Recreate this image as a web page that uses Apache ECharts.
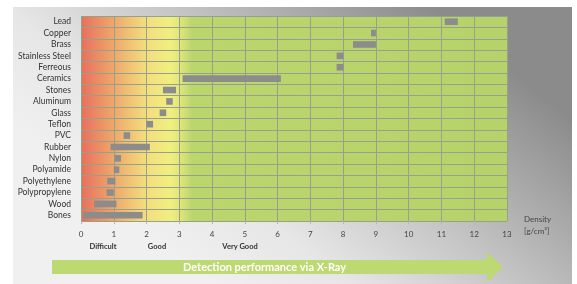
<!DOCTYPE html>
<html>
<head>
<meta charset="utf-8">
<script src="https://cdn.jsdelivr.net/npm/echarts@6/dist/echarts.min.js"></script>
<style>
  html, body { margin: 0; padding: 0; background: #fff; }
  #chart { width: 577px; height: 284px; }
</style>
</head>
<body>
<div id="chart"></div>
<script>
// materials, top to bottom
const materials = ['Lead', 'Copper', 'Brass', 'Stainless Steel', 'Ferreous', 'Ceramics', 'Stones',
  'Aluminum', 'Glass', 'Teflon', 'PVC', 'Rubber', 'Nylon', 'Polyamide', 'Polyethylene',
  'Polypropylene', 'Wood', 'Bones']
// density range (g/cm3) per material
const densityMin = [11.1, 8.85, 8.3, 7.8, 7.8, 3.1, 2.5, 2.6, 2.4, 2.0, 1.3, 0.9, 1.03, 1.0, 0.8, 0.78, 0.4, 0.07]
const densityMax = [11.5, 9.0, 9.0, 8.0, 8.0, 6.1, 2.9, 2.8, 2.6, 2.2, 1.5, 2.1, 1.22, 1.17, 1.05, 1.0, 1.08, 1.88]
const xTicks = [0, 1, 2, 3, 4, 5, 6, 7, 8, 9, 10, 11, 12, 13]

const chart = echarts.init(document.getElementById('chart'))

const rangeData = materials.map((m, i) => [i, densityMin[i], densityMax[i]])

const font = 'Lato, "Open Sans", sans-serif'

const option = {
  animation: false,
  grid: {
    left: 81, right: 70, top: 16, bottom: 63,
    show: true,
    borderWidth: 0,
    backgroundColor: new echarts.graphic.LinearGradient(0, 0, 1, 0, [
      { offset: 0, color: '#e86f5c' },
      { offset: 0.08, color: '#eeaa6c' },
      { offset: 0.15, color: '#f3dc7e' },
      { offset: 0.21, color: '#f1ef80' },
      { offset: 0.235, color: '#dde57a' },
      { offset: 0.26, color: '#bcd66e' },
      { offset: 1, color: '#b6d26a' }
    ])
  },
  xAxis: {
    type: 'value',
    min: xTicks[0],
    max: xTicks[xTicks.length - 1],
    interval: 1,
    axisLine: { show: false },
    axisTick: { show: true, length: 3, lineStyle: { color: '#b5b5b5' } },
    axisLabel: { color: '#444', fontSize: 8, fontFamily: font, margin: 9 },
    splitLine: { show: true, lineStyle: { color: '#96a08a', width: 1 } }
  },
  yAxis: {
    type: 'category',
    data: materials,
    inverse: true,
    axisLine: { show: false },
    axisTick: { show: false },
    axisLabel: { interval: 0, color: '#333', fontSize: 8.5, fontFamily: font, margin: 10 },
    splitLine: { show: true, interval: 0, lineStyle: { color: '#96a08a', width: 1 } }
  },
  series: [{
    type: 'custom',
    data: rangeData,
    encode: { x: [1, 2], y: 0 },
    renderItem: (params, api) => {
      const cat = api.value(0)
      const p0 = api.coord([api.value(1), cat])
      const p1 = api.coord([api.value(2), cat])
      const h = api.size([0, 1])[1] * 0.58
      return {
        type: 'rect',
        shape: { x: p0[0], y: p0[1] - h / 2, width: p1[0] - p0[0], height: h },
        style: { fill: '#8c8c8c' }
      }
    }
  }],
  graphic: [
    {
      type: 'rect', z: -10, silent: true,
      shape: { x: 13, y: 7, width: 559, height: 277 },
      style: {
        fill: new echarts.graphic.LinearGradient(0.75, 0, 0.35, 1, [
          { offset: 0, color: '#8b8b8b' },
          { offset: 0.45, color: '#c4c4c4' },
          { offset: 0.75, color: '#e6e6e6' },
          { offset: 1, color: '#f0f0f0' }
        ])
      }
    },
    { type: 'text', left: 524, top: 215, style: { text: 'Density', fill: '#444', font: '8px ' + font } },
    { type: 'text', left: 524, top: 227, style: { text: '[g/cm³]', fill: '#444', font: '8px ' + font } },
    { type: 'text', x: 103, y: 247, style: { text: 'Difficult', fill: '#333', font: 'bold 7.5px ' + font, align: 'center', verticalAlign: 'middle' } },
    { type: 'text', x: 157, y: 247, style: { text: 'Good', fill: '#333', font: 'bold 7.5px ' + font, align: 'center', verticalAlign: 'middle' } },
    { type: 'text', x: 240, y: 247, style: { text: 'Very Good', fill: '#333', font: 'bold 7.5px ' + font, align: 'center', verticalAlign: 'middle' } },
    {
      type: 'polygon', silent: true,
      shape: { points: [[52, 260], [487, 260], [487, 252], [503, 267], [487, 282], [487, 274], [52, 274]] },
      style: { fill: '#bdd972' }
    },
    { type: 'text', x: 183, y: 267, style: { text: 'Detection performance via X-Ray', fill: '#fff', font: 'bold 11px ' + font, verticalAlign: 'middle' } }
  ]
}

chart.setOption(option)
</script>
</body>
</html>
